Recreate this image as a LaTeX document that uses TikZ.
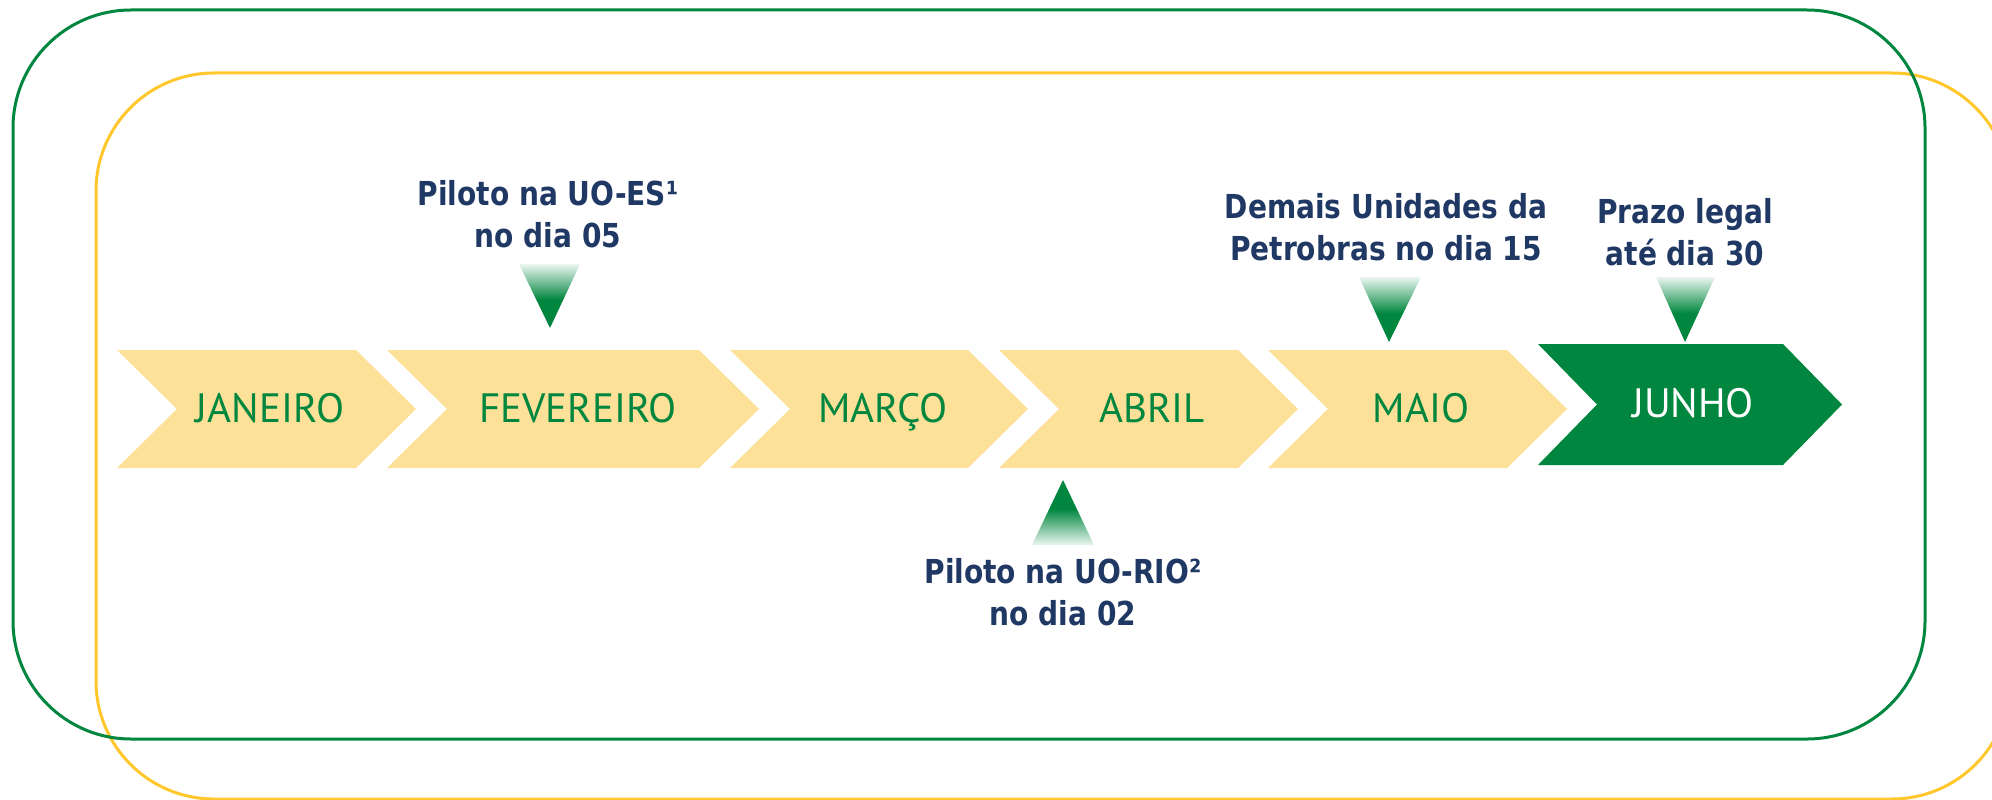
\documentclass[tikz,border=0pt]{standalone}
\usepackage{fontspec}
\newfontfamily\lblfont{DejaVu Sans}[FakeStretch=0.85]
\newfontfamily\monfont{PT Sans}
\definecolor{cg}{RGB}{0,134,62}
\definecolor{cy}{RGB}{255,199,44}
\definecolor{cfill}{RGB}{253,225,153}
\definecolor{cnavy}{RGB}{31,56,100}
\definecolor{cgl}{RGB}{235,246,240}
\pgfdeclareverticalshading{fadedown}{100bp}{color(0bp)=(cg); color(47bp)=(cg); color(75bp)=(cgl); color(100bp)=(cgl)}
\pgfdeclareverticalshading{fadeup}{100bp}{color(0bp)=(cgl); color(25bp)=(cgl); color(53bp)=(cg); color(100bp)=(cg)}
\begin{document}
\begin{tikzpicture}[x=1pt,y=-1pt,
  chevy/.style={fill=cfill, draw=none},
  chevg/.style={fill=cg, draw=none},
  mon/.style={font={\monfont\fontsize{41}{41}\selectfont}, text=cg, anchor=base, inner sep=0pt},
  lbl/.style={font={\lblfont\bfseries\fontsize{33}{42}\selectfont}, text=cnavy, align=center, anchor=base, inner sep=0pt},
  tridn/.style={shading=fadedown, draw=none},
  triup/.style={shading=fadeup, draw=none},
  frame/.style={line width=3pt, rounded corners=118pt}]
\useasboundingbox (0,0) rectangle (1992,800);
\clip (0,0) rectangle (1992,800);
\fill[white] (0,0) rectangle (1992,800);
% frames
\draw[frame, draw=cy] (96,73) rectangle (2010,799);
\draw[frame, draw=cg] (13,10) rectangle (1925,739);
% chevrons
\path[chevy] (117,350) -- (356,350) -- (416,409) -- (356,468) -- (117,468) -- (177,409) -- cycle;
\path[chevy] (387,350) -- (699,350) -- (759,409) -- (699,468) -- (387,468) -- (447,409) -- cycle;
\path[chevy] (730,350) -- (968,350) -- (1028,409) -- (968,468) -- (730,468) -- (790,409) -- cycle;
\path[chevy] (999,350) -- (1238,350) -- (1298,409) -- (1238,468) -- (999,468) -- (1059,409) -- cycle;
\path[chevy] (1268,350) -- (1507,350) -- (1567,409) -- (1507,468) -- (1268,468) -- (1328,409) -- cycle;
\path[chevg] (1538,344) -- (1783,344) -- (1842,404.5) -- (1783,465) -- (1538,465) -- (1597,404.5) -- cycle;
% month labels
\node[mon] (jan) at (270,422) {JANEIRO};
\node[mon] (fev) at (578,422) {FEVEREIRO};
\node[mon] (mar) at (883,422) {MARÇO};
\node[mon] (abr) at (1152,422) {ABRIL};
\node[mon] (mai) at (1421,422) {MAIO};
\node[mon, text=white] (jun) at (1693,417) {JUNHO};
% markers
\path[tridn] (519,264) -- (580,264) -- (550,328) -- cycle;
\path[tridn] (1359,277) -- (1421,277) -- (1389,342) -- cycle;
\path[tridn] (1656,277) -- (1715,277) -- (1685,342) -- cycle;
\path[triup] (1063,480) -- (1094,545) -- (1032,545) -- cycle;
% annotations (anchor = baseline of last line)
\node[lbl] (es) at (548,247) {Piloto na UO-ES¹\\no dia 05};
\node[lbl] (rio) at (1063,625) {Piloto na UO-RIO²\\no dia 02};
\node[lbl] (dem) at (1386,260) {Demais Unidades da\\Petrobras no dia 15};
\node[lbl] (prz) at (1685,265) {Prazo legal\\até dia 30};
\end{tikzpicture}
\end{document}
